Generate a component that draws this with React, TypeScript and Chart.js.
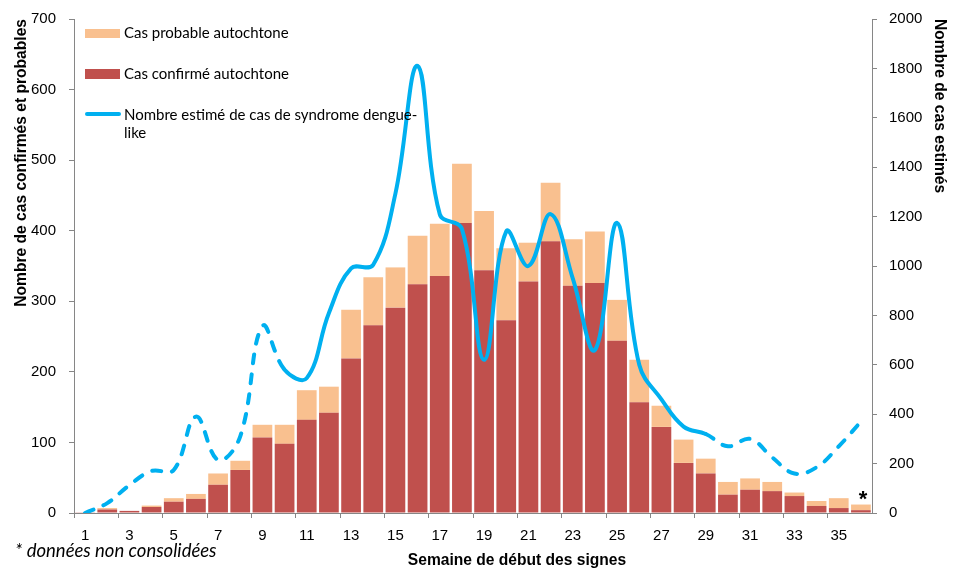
import React, { useEffect, useRef } from "react";
import { Chart, registerables } from "chart.js";

Chart.register(...registerables);

const weeks = [
  "1", "2", "3", "4", "5", "6", "7", "8", "9", "10", "11", "12",
  "13", "14", "15", "16", "17", "18", "19", "20", "21", "22", "23", "24",
  "25", "26", "27", "28", "29", "30", "31", "32", "33", "34", "35", "36",
];

const confirmed = [
  1, 5, 3, 8.5, 16, 20, 40, 61, 107, 98, 132, 142,
  219, 266, 291, 324, 336, 411, 344, 273, 328, 385, 322, 326,
  244, 157, 122, 71, 56, 26, 33, 31, 24, 10, 7, 4,
];

const probable = [
  0, 2, 0, 2, 5, 7, 16, 13, 18, 27, 42, 37,
  69, 68, 57, 69, 74, 84, 84, 102, 55, 83, 66, 73,
  58, 60, 30, 33, 21, 18, 16, 13, 5, 7, 14, 8,
];

const estimated = [
  0, 40, 113, 170, 174, 390, 215, 310, 756, 580, 546, 810,
  990, 1005, 1293, 1810, 1210, 1150, 620, 1140, 1000, 1210, 950, 660,
  1175, 600, 460, 350, 320, 270, 300, 225, 160, 185, 270, 370,
];

const leftTicksMax = 700;
const rightTicksMax = 2000;

const COLOR_PROB = "#F9C08F";
const COLOR_CONF = "#C0504D";
const COLOR_LINE = "#00B0F0";
const AXIS_GREY = "#868686";

const legendLabels = [
  "Cas probable autochtone",
  "Cas confirmé autochtone",
  "Nombre estimé de cas de syndrome dengue-",
  "like",
];
const xTitle = "Semaine de début des signes";
const footnote = "* données non consolidées";

const overlayPlugin = {
  id: "overlay",
  afterDraw(chart: any) {
    const ctx = chart.ctx as CanvasRenderingContext2D;
    ctx.save();
    // Legend
    ctx.font = "15px Lato";
    ctx.textBaseline = "middle";
    ctx.textAlign = "left";
    ctx.fillStyle = COLOR_PROB;
    ctx.fillRect(85, 29, 35, 9);
    ctx.fillStyle = COLOR_CONF;
    ctx.fillRect(85, 69, 35, 10);
    ctx.strokeStyle = COLOR_LINE;
    ctx.lineWidth = 4;
    ctx.lineCap = "round";
    ctx.beginPath();
    ctx.moveTo(87, 114);
    ctx.lineTo(119, 114);
    ctx.stroke();
    ctx.fillStyle = "#000";
    ctx.fillText(legendLabels[0], 124, 33);
    ctx.fillText(legendLabels[1], 124, 74);
    ctx.fillText(legendLabels[2], 124, 115);
    ctx.fillText(legendLabels[3], 124, 133);

    // Asterisk above last bar
    const xs = chart.scales.x;
    const ys = chart.scales.y;
    const last = weeks.length - 1;
    const px = xs.getPixelForValue(last);
    const py = ys.getPixelForValue(confirmed[last] + probable[last]);
    ctx.font = "bold 22px 'Liberation Sans'";
    ctx.textAlign = "center";
    ctx.textBaseline = "alphabetic";
    ctx.fillText("*", px + 2, py + 1);

    // X title
    ctx.font = "bold 15.6px 'Liberation Sans'";
    ctx.textAlign = "center";
    ctx.textBaseline = "middle";
    ctx.fillText(xTitle, 517, 561);

    // Footnote
    ctx.font = "italic 18.5px Lato";
    ctx.textAlign = "left";
    ctx.fillText(footnote, 15, 551);
    ctx.restore();
  },
};

export default function App() {
  const ref = useRef<HTMLCanvasElement | null>(null);

  useEffect(() => {
    document.body.style.margin = "0";
    const canvas = ref.current;
    if (!canvas) return;
    const tickFont = { family: "'Liberation Sans', Arial, sans-serif", size: 15 };
    const titleFont = { family: "'Liberation Sans', Arial, sans-serif", size: 15.6, weight: "bold" as const };

    const chart = new Chart(canvas, {
      type: "bar",
      data: {
        labels: weeks,
        datasets: [
          {
            type: "line",
            label: "Nombre estimé de cas de syndrome dengue-like",
            data: estimated,
            yAxisID: "y2",
            borderColor: COLOR_LINE,
            backgroundColor: COLOR_LINE,
            borderWidth: 4,
            pointRadius: 0,
            tension: 0.4,
            borderCapStyle: "round",
            borderJoinStyle: "round",
            order: 0,
            segment: {
              borderDash: (c: any) =>
                c.p0DataIndex < 9 || c.p0DataIndex >= 28 ? [9, 11] : undefined,
            },
          } as any,
          {
            type: "bar",
            label: "Cas confirmé autochtone",
            data: confirmed,
            yAxisID: "y",
            backgroundColor: COLOR_CONF,
            barPercentage: 0.89,
            categoryPercentage: 1,
            order: 1,
          },
          {
            type: "bar",
            label: "Cas probable autochtone",
            data: probable,
            yAxisID: "y",
            backgroundColor: COLOR_PROB,
            barPercentage: 0.89,
            categoryPercentage: 1,
            order: 2,
          },
        ],
      },
      options: {
        responsive: false,
        animation: false,
        layout: { padding: { top: 19, left: 0, right: 0, bottom: 0 } },
        plugins: {
          legend: { display: false },
          tooltip: { enabled: false },
        },
        scales: {
          x: {
            stacked: true,
            offset: true,
            grid: {
              offset: true,
              drawOnChartArea: false,
              drawTicks: true,
              tickLength: 5,
              color: (c: any) => (c.index % 2 === 0 ? AXIS_GREY : "rgba(0,0,0,0)"),
            },
            border: { color: AXIS_GREY, width: 1 },
            ticks: {
              autoSkip: false,
              maxRotation: 0,
              minRotation: 0,
              padding: 9,
              color: "#000",
              font: tickFont,
              callback: (_v: any, i: number) => (i % 2 === 0 ? weeks[i] : ""),
            },
            afterFit: (s: any) => {
              s.height = 57;
              s.paddingLeft = 0;
              s.paddingRight = 0;
            },
          },
          y: {
            type: "linear",
            position: "left",
            stacked: true,
            min: 0,
            max: leftTicksMax,
            grid: { drawOnChartArea: false, tickLength: 5, color: AXIS_GREY },
            border: { color: AXIS_GREY, width: 1 },
            ticks: {
              stepSize: 100,
              padding: 13,
              color: "#000",
              font: tickFont,
              callback: (v: any) => String(v),
            },
            title: {
              display: true,
              text: "Nombre de cas confirmés et probables",
              align: "end",
              color: "#000",
              font: titleFont,
              padding: { top: 12, bottom: 0 },
            },
            afterFit: (s: any) => {
              s.width = 74;
              s.paddingTop = 0;
              s.paddingBottom = 0;
            },
          },
          y2: {
            type: "linear",
            position: "right",
            min: 0,
            max: rightTicksMax,
            grid: { drawOnChartArea: false, tickLength: 5, color: AXIS_GREY },
            border: { color: AXIS_GREY, width: 1 },
            ticks: {
              stepSize: 200,
              padding: 12,
              color: "#000",
              font: tickFont,
              callback: (v: any) => String(v),
            },
            title: {
              display: true,
              text: "Nombre de cas estimés",
              align: "end",
              color: "#000",
              font: titleFont,
              padding: { top: 6, bottom: 0 },
            },
            afterFit: (s: any) => {
              s.width = 83;
              s.paddingTop = 0;
              s.paddingBottom = 0;
            },
          },
        },
      },
      plugins: [overlayPlugin],
    });
    return () => chart.destroy();
  }, []);

  return (
    <div style={{ position: "relative", width: 955, height: 570 }}>
      <canvas ref={ref} width={955} height={570} />
    </div>
  );
}
